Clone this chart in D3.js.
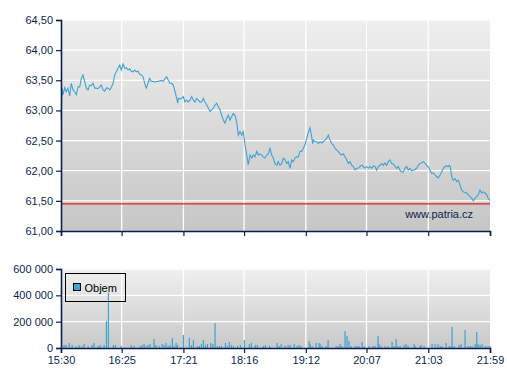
<!DOCTYPE html>
<html>
<head>
<meta charset="utf-8">
<script src="https://cdn.jsdelivr.net/npm/d3@7"></script>
<style>
  html, body { margin: 0; padding: 0; background: #ffffff; }
  svg { display: block; font-family: "Liberation Sans", Arial, sans-serif; }
</style>
</head>
<body>
<svg id="chart" width="507" height="380"></svg>
<script>
// ---------- DATA ----------
// time axis: minutes after 15:30
const timeTickMinutes = [0, 55, 111, 166, 222, 277, 333, 389];
const timeTickLabels = ["15:30", "16:25", "17:21", "18:16", "19:12", "20:07", "21:03", "21:59"];

const priceTicks = [61.0, 61.5, 62.0, 62.5, 63.0, 63.5, 64.0, 64.5];
const volumeTicks = [0, 200000, 400000, 600000];
const volumeTickLabels = ["0", "200 000", "400 000", "600 000"];

const referenceLevel = 61.45;   // red line
const watermark = "www.patria.cz";
const legendLabel = "Objem";

// price series: [minute, price]
const pricePoints = [
  [0,62.87],[0.9,63.37],[1.8,63.26],[3.4,63.38],[4.8,63.31],[6.3,63.37],[7.9,63.24],[9.3,63.45],
  [10.9,63.34],[12.4,63.31],[13.9,63.26],[15.4,63.39],[17.0,63.39],[18.4,63.53],[19.9,63.59],[21.5,63.48],
  [22.9,63.37],[24.5,63.34],[26.0,63.42],[27.5,63.41],[29.0,63.45],[30.6,63.37],[32.0,63.37],[33.5,63.36],
  [35.1,63.39],[36.5,63.42],[38.1,63.34],[39.6,63.32],[41.1,63.37],[42.6,63.37],[44.2,63.34],[45.6,63.38],
  [47.2,63.45],[48.7,63.59],[50.1,63.64],[51.7,63.70],[53.2,63.75],[54.7,63.67],[56.2,63.77],[57.8,63.70],
  [59.2,63.71],[60.8,63.67],[62.3,63.69],[63.7,63.65],[65.3,63.64],[66.8,63.67],[68.3,63.64],[69.8,63.65],
  [71.4,63.60],[72.8,63.59],[74.4,63.56],[75.9,63.45],[77.3,63.37],[78.9,63.45],[80.4,63.53],[81.9,63.48],
  [83.4,63.48],[85.0,63.47],[86.4,63.48],[88.0,63.48],[89.5,63.49],[90.9,63.50],[92.5,63.48],[94.0,63.52],
  [95.8,63.56],[97.3,63.50],[98.8,63.45],[100.4,63.45],[101.8,63.42],[103.4,63.31],[104.9,63.20],[105.8,63.12],
  [106.4,63.20],[107.9,63.19],[109.4,63.20],[110.9,63.23],[112.4,63.14],[114.0,63.17],[115.4,63.14],[117.0,63.17],
  [118.5,63.23],[120.0,63.17],[121.5,63.14],[123.0,63.20],[124.5,63.17],[126.0,63.14],[127.6,63.14],[129.0,63.20],
  [130.6,63.14],[132.1,63.09],[133.6,63.04],[135.1,62.98],[136.6,63.01],[138.1,63.04],[139.6,63.09],[141.2,63.12],
  [142.6,63.06],[144.2,63.01],[145.7,62.92],[147.2,62.84],[148.7,62.79],[150.3,62.87],[151.7,62.92],[153.2,62.84],
  [154.8,62.90],[156.2,62.95],[157.8,62.92],[159.3,62.81],[160.8,62.59],[162.3,62.65],[163.9,62.59],[165.3,62.65],
  [166.8,62.43],[168.4,62.26],[169.8,62.10],[171.4,62.26],[172.9,62.21],[174.4,62.26],[175.9,62.23],[177.5,62.32],
  [178.9,62.26],[180.4,62.28],[182.0,62.26],[183.4,62.23],[185.0,62.21],[186.5,62.26],[188.0,62.28],[189.5,62.37],
  [191.0,62.26],[192.5,62.21],[194.0,62.12],[195.6,62.09],[197.0,62.15],[198.6,62.09],[200.1,62.12],[201.6,62.21],
  [203.1,62.18],[204.7,62.12],[206.1,62.15],[207.7,62.04],[209.2,62.18],[210.6,62.15],[212.2,62.21],[213.7,62.23],
  [215.2,62.23],[216.7,62.32],[218.3,62.32],[219.7,62.37],[221.3,62.43],[222.8,62.54],[224.2,62.63],[225.8,62.71],
  [227.3,62.56],[228.2,62.45],[228.8,62.51],[230.3,62.48],[231.9,62.48],[233.3,62.45],[234.9,62.48],[236.4,62.46],
  [237.8,62.48],[239.4,62.51],[240.9,62.54],[242.4,62.59],[243.9,62.51],[245.5,62.45],[246.9,62.43],[248.5,62.37],
  [250.0,62.34],[251.4,62.32],[253.0,62.28],[254.5,62.26],[256.0,62.28],[257.5,62.23],[259.1,62.18],[260.5,62.12],
  [262.1,62.15],[263.6,62.09],[265.0,62.07],[266.6,62.01],[268.1,62.04],[269.6,62.04],[271.1,62.07],[272.7,62.09],
  [274.1,62.07],[275.7,62.04],[277.2,62.07],[278.6,62.04],[280.2,62.07],[281.7,62.04],[283.2,62.08],[284.7,62.07],
  [286.2,62.01],[287.7,62.07],[289.3,62.09],[290.8,62.12],[292.2,62.09],[293.8,62.13],[295.3,62.09],[296.8,62.15],
  [298.3,62.18],[299.8,62.12],[301.3,62.11],[302.9,62.07],[304.4,62.04],[305.8,62.07],[307.4,62.01],[308.9,61.98],
  [310.4,61.98],[311.9,62.04],[313.5,62.07],[314.9,62.01],[316.5,62.04],[318.0,62.00],[319.4,62.01],[321.0,62.02],
  [322.5,62.04],[324.0,62.09],[325.5,62.12],[327.1,62.13],[328.5,62.15],[330.1,62.12],[331.6,62.09],[333.1,62.06],
  [334.6,62.01],[336.1,61.96],[337.6,61.96],[339.1,61.93],[340.7,61.90],[342.1,61.88],[343.7,61.93],[345.2,61.98],
  [346.6,62.04],[348.2,62.07],[349.7,62.08],[351.2,62.07],[352.1,62.09],[353.0,62.07],[354.3,61.90],[355.7,61.84],
  [357.3,61.87],[358.8,61.82],[360.3,61.84],[361.8,61.76],[363.3,61.68],[364.8,61.65],[366.3,61.64],[367.9,61.63],
  [369.3,61.60],[370.9,61.57],[372.4,61.54],[373.8,61.50],[375.4,61.54],[376.9,61.57],[378.4,61.60],[379.9,61.68],
  [381.4,61.63],[382.9,61.65],[384.5,61.63],[386.0,61.60],[387.5,61.54],[389.0,61.51]
];

// volume series: [minute, volume]
const volumeBars = [
  [2.7,23000],[4.5,23000],[7.3,38000],[10.0,23000],[13.6,15000],[16.3,23000],[19.0,15000],[20.9,30000],
  [24.5,15000],[28.1,23000],[29.9,38000],[33.6,15000],[35.4,23000],[39.0,23000],[41.1,205000],[42.9,420000],
  [47.4,23000],[49.2,23000],[54.4,15000],[63.5,23000],[66.2,15000],[71.6,15000],[73.4,23000],[75.3,30000],
  [77.1,15000],[78.9,23000],[80.7,30000],[84.3,68000],[86.1,23000],[88.9,15000],[91.6,30000],[93.4,23000],
  [95.2,38000],[97.0,15000],[98.8,23000],[100.9,76000],[102.5,15000],[104.3,38000],[105.5,23000],[110.9,99000],
  [116.3,76000],[118.2,23000],[120.0,61000],[123.6,15000],[125.4,15000],[127.2,30000],[129.0,61000],[130.8,23000],
  [132.7,30000],[135.7,38000],[137.6,30000],[139.6,190000],[141.7,15000],[143.5,15000],[145.4,15000],[149.0,38000],
  [150.8,15000],[152.6,46000],[154.4,23000],[156.2,15000],[159.9,15000],[162.6,23000],[166.2,61000],[170.7,30000],
  [172.6,38000],[176.2,23000],[178.0,23000],[183.4,15000],[185.3,23000],[188.9,15000],[195.9,38000],[197.7,15000],
  [199.5,30000],[203.1,15000],[205.8,23000],[207.7,23000],[211.3,30000],[214.0,15000],[215.8,23000],[217.6,15000],
  [224.9,53000],[225.8,30000],[227.6,15000],[231.2,38000],[233.9,38000],[234.9,30000],[236.7,15000],[240.3,15000],
  [242.1,61000],[249.4,15000],[251.2,15000],[253.0,30000],[254.8,15000],[257.5,129000],[259.3,91000],[261.1,53000],
  [263.0,15000],[266.6,15000],[268.4,15000],[270.2,15000],[272.9,46000],[274.7,15000],[279.3,15000],[282.9,15000],
  [284.7,15000],[287.4,91000],[288.3,30000],[290.2,15000],[293.8,15000],[296.5,15000],[300.1,46000],[301.9,15000],
  [303.8,68000],[305.6,15000],[307.4,15000],[311.0,23000],[312.8,30000],[314.6,15000],[320.1,30000],[321.0,15000],
  [325.5,15000],[326.4,23000],[329.1,15000],[336.4,30000],[339.1,30000],[341.8,30000],[343.7,15000],[345.5,15000],
  [349.1,38000],[351.8,15000],[353.6,15000],[354.5,160000],[356.4,15000],[360.9,23000],[362.7,30000],[366.3,137000],
  [369.0,15000],[370.9,15000],[372.7,15000],[375.4,30000],[376.9,122000],[378.1,30000],[379.9,23000],[381.7,30000],
  [384.5,15000],[387.1,15000],[389.0,15000]
];

// ---------- LAYOUT ----------
const svg = d3.select("#chart");
const left = 61, right = 490;
const priceTop = 20, priceBottom = 231;
const volTop = 269, volBottom = 348;
const navy = "#0b1f4f";
const blue = "#3fa3d4";

const x = d3.scaleLinear().domain([0, 389]).range([left, right]);
const yP = d3.scaleLinear().domain([61, 64.5]).range([priceBottom, priceTop]);
const yV = d3.scaleLinear().domain([0, 600000]).range([volBottom, volTop]);

const defs = svg.append("defs");
function grad(id, c1, c2) {
  const g = defs.append("linearGradient").attr("id", id)
    .attr("x1", 0).attr("y1", 0).attr("x2", 0).attr("y2", 1);
  g.append("stop").attr("offset", "0%").attr("stop-color", c1);
  g.append("stop").attr("offset", "100%").attr("stop-color", c2);
}
grad("gP", "#efefef", "#c6c6c6");
grad("gV", "#f0f0f0", "#c9c9c9");

// backgrounds
svg.append("rect").attr("x", left).attr("y", priceTop - 1)
  .attr("width", right - left).attr("height", priceBottom - priceTop + 1).attr("fill", "url(#gP)");
svg.append("rect").attr("x", left).attr("y", volTop - 1)
  .attr("width", right - left).attr("height", volBottom - volTop + 1).attr("fill", "url(#gV)");

// grid
const gridP = svg.append("g").attr("stroke", "#ffffff").attr("stroke-width", 1.3);
priceTicks.filter(t => t > 61).forEach(t => {
  gridP.append("line").attr("x1", left).attr("x2", right).attr("y1", yP(t)).attr("y2", yP(t));
});
timeTickMinutes.filter(m => m > 0 && m < 389).forEach(m => {
  gridP.append("line").attr("x1", x(m)).attr("x2", x(m)).attr("y1", priceTop).attr("y2", priceBottom);
});
const gridV = svg.append("g").attr("stroke", "#ffffff").attr("stroke-width", 1.3);
volumeTicks.filter(t => t > 0).forEach(t => {
  gridV.append("line").attr("x1", left).attr("x2", right).attr("y1", yV(t)).attr("y2", yV(t));
});
timeTickMinutes.filter(m => m > 0 && m < 389).forEach(m => {
  gridV.append("line").attr("x1", x(m)).attr("x2", x(m)).attr("y1", volTop).attr("y2", volBottom);
});

// reference level
svg.append("line").attr("x1", left).attr("x2", right)
  .attr("y1", yP(referenceLevel)).attr("y2", yP(referenceLevel))
  .attr("stroke", "#e0201c").attr("stroke-width", 1.2);

// price line
svg.append("path").datum(pricePoints)
  .attr("fill", "none").attr("stroke", blue).attr("stroke-width", 1.1)
  .attr("d", d3.line().x(d => x(d[0])).y(d => yP(d[1])));

// volume bars
svg.append("g").selectAll("rect").data(volumeBars).join("rect")
  .attr("x", d => x(d[0]) - 0.5).attr("width", 1.2)
  .attr("y", d => yV(d[1])).attr("height", d => volBottom - yV(d[1]))
  .attr("fill", blue);

// watermark
svg.append("text").attr("x", 473).attr("y", 217.5).attr("text-anchor", "end")
  .attr("font-size", 11).attr("fill", navy).text(watermark);

// axes
function styleAxis(g) {
  g.selectAll("path.domain").attr("stroke", navy).attr("stroke-width", 1.6);
  g.selectAll(".tick line").attr("stroke", navy).attr("stroke-width", 1.2);
  g.selectAll(".tick text").attr("fill", navy).attr("font-size", 11)
    .attr("font-family", "'Liberation Sans', Arial, sans-serif");
}
const fmtPrice = d => d.toFixed(2).replace(".", ",");
svg.append("g").attr("transform", `translate(${left},0)`)
  .call(d3.axisLeft(yP).tickValues(priceTicks).tickFormat(fmtPrice).tickSizeOuter(0).tickSize(5).tickPadding(3))
  .call(styleAxis);
svg.append("g").attr("transform", `translate(0,${priceBottom})`)
  .call(d3.axisBottom(x).tickValues(timeTickMinutes).tickFormat("").tickSizeOuter(0).tickSize(5))
  .call(styleAxis);
svg.append("g").attr("transform", `translate(${left},0)`)
  .call(d3.axisLeft(yV).tickValues(volumeTicks).tickFormat((d, i) => volumeTickLabels[i]).tickSizeOuter(0).tickSize(5).tickPadding(3))
  .call(styleAxis);
svg.append("g").attr("transform", `translate(0,${volBottom})`)
  .call(d3.axisBottom(x).tickValues(timeTickMinutes).tickFormat((d, i) => timeTickLabels[i]).tickSizeOuter(0).tickSize(5).tickPadding(3))
  .call(styleAxis);

// legend
const lg = svg.append("g");
lg.append("rect").attr("x", 65.5).attr("y", 273.5).attr("width", 60).attr("height", 28)
  .attr("fill", "none").attr("stroke", "#000000").attr("stroke-width", 1);
lg.append("rect").attr("x", 73.5).attr("y", 283.5).attr("width", 7).attr("height", 7)
  .attr("fill", blue).attr("stroke", "#000000").attr("stroke-width", 1);
lg.append("text").attr("x", 84.5).attr("y", 291.5).attr("font-size", 11).attr("fill", "#000000").text(legendLabel);
</script>
</body>
</html>
